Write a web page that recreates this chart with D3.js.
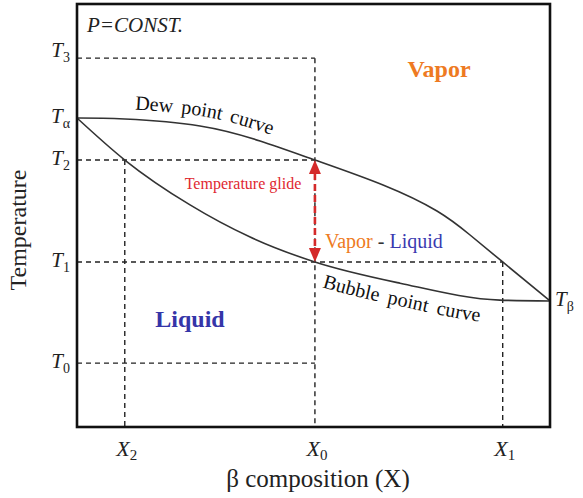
<!DOCTYPE html>
<html>
<head>
<meta charset="utf-8">
<script src="https://cdn.jsdelivr.net/npm/d3@7"></script>
<style>
  html, body { margin: 0; padding: 0; background: #fff; }
  svg { display: block; }
  svg text { font-family: "Liberation Serif", "Times New Roman", Times, serif; }
</style>
</head>
<body>
<svg id="chart" width="583" height="498"></svg>
<script>
// Composition (0..1) and temperature (0..100, arbitrary units)
const dewCurve = [
  [0.000, 73.05], [0.101, 72.81], [0.260, 71.16], [0.387, 67.61], [0.503, 63.12],
  [0.647, 57.21], [0.761, 51.06], [0.831, 45.39], [0.900, 39.01], [1.000, 29.79]
];
const bubbleCurve = [
  [0.000, 73.05], [0.101, 63.12], [0.239, 52.50], [0.366, 44.90], [0.503, 39.01],
  [0.683, 34.00], [0.894, 30.00], [1.000, 29.79]
];
const tempLevels = [
  { name: "3", t: 87.2 },
  { name: "α", t: 73.05 },
  { name: "2", t: 63.12 },
  { name: "1", t: 39.01 },
  { name: "0", t: 15.1 }
];
const compLevels = [
  { name: "2", x: 0.101 },
  { name: "0", x: 0.503 },
  { name: "1", x: 0.900 }
];
const betaLevel = { name: "β", t: 29.79 };
// guide lines: horizontal [t, x-end], vertical [x, t-top]
const hGuides = [[87.2, 0.503], [63.12, 0.503], [39.01, 0.900], [15.1, 0.503]];
const vGuides = [[0.101, 63.12], [0.503, 87.2], [0.900, 39.01]];
const glide = { x: 0.503, top: 63.12, bottom: 39.01 };

(function () {
const FONT = '"Liberation Serif", "Times New Roman", Times, serif';
const svg = d3.select("#chart");
const mL = 77, mR = 550, mT = 4, mB = 427;
const x = d3.scaleLinear().domain([0, 1]).range([mL, mR]);
const y = d3.scaleLinear().domain([0, 100]).range([mB, mT]);

const text = () => svg.append("text").attr("font-family", FONT);
const dash = "5,4";
const g = svg.append("g");

// dashed guide lines
hGuides.forEach(([t, xe]) => {
  g.append("line").attr("x1", x(0)).attr("x2", x(xe))
    .attr("y1", y(t)).attr("y2", y(t))
    .attr("stroke", "#222").attr("stroke-width", 1.4).attr("stroke-dasharray", dash);
});
vGuides.forEach(([xv, t]) => {
  g.append("line").attr("x1", x(xv)).attr("x2", x(xv))
    .attr("y1", y(t)).attr("y2", y(0))
    .attr("stroke", "#222").attr("stroke-width", 1.4).attr("stroke-dasharray", dash);
});

// phase boundary curves
const dewLine = dy => d3.line().x(d => x(d[0])).y(d => y(d[1]) + dy).curve(d3.curveNatural);
const bubbleLine = dy => d3.line().x(d => x(d[0])).y(d => y(d[1]) + dy).curve(d3.curveMonotoneX);
g.append("path").attr("d", dewLine(0)(dewCurve)).attr("fill", "none")
  .attr("stroke", "#333").attr("stroke-width", 1.6);
g.append("path").attr("d", bubbleLine(0)(bubbleCurve)).attr("fill", "none")
  .attr("stroke", "#333").attr("stroke-width", 1.6);

// curve labels laid along offset copies of the curves
const defs = svg.append("defs");
defs.append("path").attr("id", "dewPath").attr("d", dewLine(-10)(dewCurve));
defs.append("path").attr("id", "bubblePath").attr("d", bubbleLine(23)(bubbleCurve));
text().attr("font-size", 20).attr("fill", "#111").attr("word-spacing", 3)
  .append("textPath").attr("href", "#dewPath").attr("startOffset", 58)
  .text("Dew point curve");
text().attr("font-size", 20).attr("fill", "#111").attr("word-spacing", 4)
  .append("textPath").attr("href", "#bubblePath").attr("startOffset", 288)
  .text("Bubble point curve");

// temperature glide arrow
const red = "#d42a2a";
const gx = x(glide.x), gy1 = y(glide.top), gy2 = y(glide.bottom);
g.append("line").attr("x1", gx).attr("x2", gx).attr("y1", gy1 + 13).attr("y2", gy2 - 13)
  .attr("stroke", red).attr("stroke-width", 2.6).attr("stroke-dasharray", "7,4");
g.append("path").attr("d", `M${gx},${gy1} L${gx - 6},${gy1 + 14} L${gx + 6},${gy1 + 14} Z`).attr("fill", red);
g.append("path").attr("d", `M${gx},${gy2} L${gx - 6},${gy2 - 14} L${gx + 6},${gy2 - 14} Z`).attr("fill", red);

// frame
svg.append("rect").attr("x", mL).attr("y", mT).attr("width", mR - mL).attr("height", mB - mT)
  .attr("fill", "none").attr("stroke", "#111").attr("stroke-width", 2.6);

// temperature tick labels
tempLevels.forEach(d => {
  const t = text().attr("x", 70).attr("y", y(d.t) + (d.name === "3" ? -1 : 5))
    .attr("text-anchor", "end").attr("font-size", 21).attr("fill", "#222");
  t.append("tspan").attr("font-style", "italic").text("T");
  t.append("tspan").attr("font-size", 14).attr("dy", 5).text(d.name);
});
{
  const t = text().attr("x", 555).attr("y", y(betaLevel.t) + 5)
    .attr("font-size", 21).attr("fill", "#222");
  t.append("tspan").attr("font-style", "italic").text("T");
  t.append("tspan").attr("font-size", 14).attr("dy", 5).text(betaLevel.name);
}
// composition tick labels
compLevels.forEach(d => {
  const t = text().attr("x", x(d.x) + 2).attr("y", 456)
    .attr("text-anchor", "middle").attr("font-size", 22).attr("fill", "#222");
  t.append("tspan").attr("font-style", "italic").text("X");
  t.append("tspan").attr("font-size", 15).attr("dy", 4).text(d.name);
});

// axis titles
text().attr("transform", `translate(26,230) rotate(-90)`)
  .attr("text-anchor", "middle").attr("font-size", 24).attr("fill", "#222").text("Temperature");
text().attr("x", 318).attr("y", 487)
  .attr("text-anchor", "middle").attr("font-size", 25).attr("fill", "#222").text("β composition (X)");

// region annotations
text().attr("x", 87).attr("y", 32).attr("font-size", 21).attr("font-style", "italic")
  .attr("fill", "#222").text("P=CONST.");
text().attr("x", 439).attr("y", 77).attr("text-anchor", "middle")
  .attr("font-size", 24).attr("font-weight", "bold").attr("fill", "#ee7a22").text("Vapor");
text().attr("x", 190).attr("y", 327).attr("text-anchor", "middle")
  .attr("font-size", 24).attr("font-weight", "bold").attr("fill", "#3535a8").text("Liquid");
text().attr("x", 243).attr("y", 189).attr("text-anchor", "middle")
  .attr("font-size", 16).attr("fill", "#e02830").text("Temperature glide");
{
  const t = text().attr("x", 325).attr("y", 248).attr("font-size", 20);
  t.append("tspan").attr("fill", "#ee7a22").text("Vapor");
  t.append("tspan").attr("fill", "#333").text(" - ");
  t.append("tspan").attr("fill", "#3a3ab0").text("Liquid");
}
})();
</script>
</body>
</html>
